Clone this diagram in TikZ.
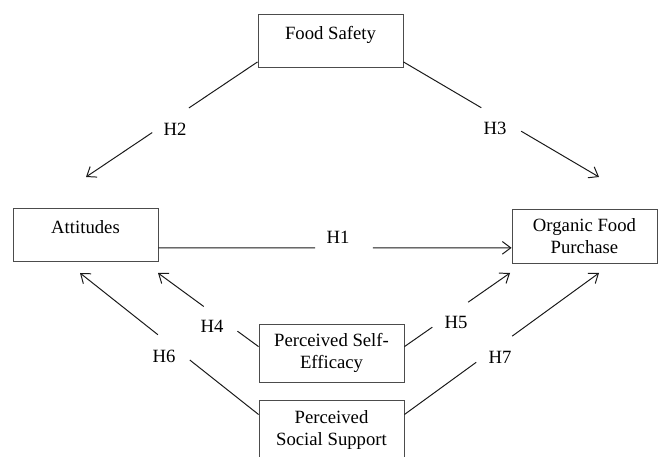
\documentclass[tikz,border=0pt]{standalone}
\usepackage{fontspec}
\setmainfont{Liberation Serif}
\usetikzlibrary{arrows.meta,calc}

\tikzset{
  box/.style={draw=black!70, line width=0.6pt, minimum width=3.625cm, inner sep=0pt, align=center},
  single/.style={text height=0.62cm, text depth=0.7cm},
  hyp/.style={draw=black!90, line width=0.7pt},
  arr/.style={hyp, -{Straight Barb[length=6pt,width=9pt]}},
  lab/.style={inner sep=0pt}
}

\begin{document}
\begin{tikzpicture}[x=0.025cm, y=-0.025cm, font=\fontsize{13.3pt}{15.6pt}\selectfont]
\useasboundingbox (0,0) rectangle (659,457);
\begin{scope}
\node[box,single] (fs) at (330.5,41) {Food Safety};
\node[box,single] (att) at (85.5,235) {Attitudes};
\node[box,minimum height=1.35cm] (ofp) at (584.5,236) {Organic Food\\Purchase};
\node[box,minimum height=1.45cm] (pse) at (331.5,353) {Perceived Self-\\Efficacy};
\node[box,minimum height=1.5cm] (pss) at (331.5,430) {Perceived\\Social Support};

\coordinate (t1) at (att.-10 -| ofp.west);
\coordinate (t2) at (86,177);
\coordinate (t3) at (599,177);
\coordinate (t4) at (158,273);
\coordinate (t5) at (510,273);
\coordinate (t6) at (80,273);
\coordinate (t7) at (599,273);

\foreach \s/\t/\a/\b in {att.-10/t1/.444/.607, fs.196/t2/.40/.614, fs.-16/t3/.398/.602,
  pse.175/t4/.21/.545, pse.5/t5/.264/.604, pss.168/t6/.385/.564, pss.12/t7/.369/.554} {
  \draw[hyp] (\s) -- ($(\s)!\a!(\t)$);
  \draw[arr] ($(\s)!\b!(\t)$) -- (\t);
}

\foreach \n/\p in {1/{338,237}, 2/{175,129}, 3/{495,128}, 4/{212,326},
  5/{456,322}, 6/{164,356}, 7/{500,357}}
  \node[lab] (h\n) at (\p) {H\n};
\end{scope}
\end{tikzpicture}
\end{document}
